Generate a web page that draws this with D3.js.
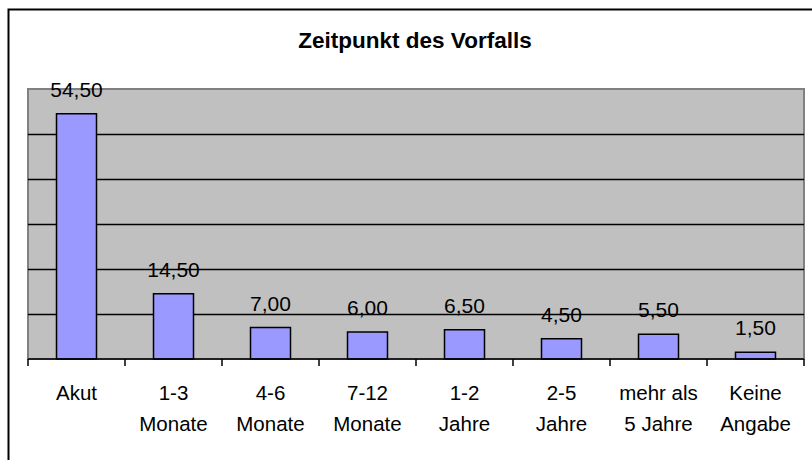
<!DOCTYPE html>
<html>
<head>
<meta charset="utf-8">
<script src="https://cdn.jsdelivr.net/npm/d3@7"></script>
<style>
  body { margin: 0; background: #fff; }
  text { font-family: "Liberation Sans", Arial, sans-serif; fill: #000; }
</style>
</head>
<body>
<div id="chart"></div>
<script>
var categories = [["Akut"], ["1-3", "Monate"], ["4-6", "Monate"], ["7-12", "Monate"],
    ["1-2", "Jahre"], ["2-5", "Jahre"], ["mehr als", "5 Jahre"], ["Keine", "Angabe"]];
var values = [54.5, 14.5, 7.0, 6.0, 6.5, 4.5, 5.5, 1.5];
var gridTicks = [10, 20, 30, 40, 50];

var W = 812, H = 460;
var plot = { left: 28, top: 89, right: 804, bottom: 359 };

var svg = d3.select("#chart").append("svg")
    .attr("width", W)
    .attr("height", H);

// outer chart frame
svg.append("rect")
    .attr("x", 8.5).attr("y", 9.5)
    .attr("width", 830).attr("height", 470)
    .attr("fill", "#fff")
    .attr("stroke", "#000")
    .attr("stroke-width", 2);

svg.append("text")
    .attr("x", 415).attr("y", 48)
    .attr("text-anchor", "middle")
    .style("font-size", "22.5px")
    .style("font-weight", "bold")
    .text("Zeitpunkt des Vorfalls");

var x = d3.scaleBand()
    .domain(d3.range(values.length))
    .range([plot.left, plot.right])
    .paddingInner(0)
    .paddingOuter(0);

var y = d3.scaleLinear()
    .domain([0, 60])
    .range([plot.bottom, plot.top]);

svg.append("rect")
    .attr("x", plot.left).attr("y", plot.top)
    .attr("width", plot.right - plot.left)
    .attr("height", plot.bottom - plot.top)
    .attr("fill", "#c0c0c0")
    .attr("stroke", "#808080")
    .attr("stroke-width", 2);

svg.append("g")
    .selectAll("line")
    .data(gridTicks)
    .enter()
    .append("line")
    .attr("x1", plot.left).attr("x2", plot.right)
    .attr("y1", function (d) { return Math.round(y(d)) + 0.5; })
    .attr("y2", function (d) { return Math.round(y(d)) + 0.5; })
    .attr("stroke", "#000")
    .attr("stroke-width", 1.3);

var barW = 40;
svg.append("g")
    .selectAll("rect")
    .data(values)
    .enter()
    .append("rect")
    .attr("x", function (d, i) { return x(i) + x.bandwidth() / 2 - barW / 2; })
    .attr("y", function (d) { return y(d); })
    .attr("width", barW)
    .attr("height", function (d) { return y(0) - y(d); })
    .attr("fill", "#9999ff")
    .attr("stroke", "#000")
    .attr("stroke-width", 1.5);

// x axis line with ticks at category boundaries
svg.append("line")
    .attr("x1", plot.left).attr("x2", plot.right)
    .attr("y1", plot.bottom).attr("y2", plot.bottom)
    .attr("stroke", "#000")
    .attr("stroke-width", 1.5);

svg.append("g")
    .selectAll("line")
    .data(d3.range(values.length + 1))
    .enter()
    .append("line")
    .attr("x1", function (i) { return i < values.length ? x(i) : plot.right; })
    .attr("x2", function (i) { return i < values.length ? x(i) : plot.right; })
    .attr("y1", plot.bottom)
    .attr("y2", plot.bottom + 7)
    .attr("stroke", "#000")
    .attr("stroke-width", 1.5);

svg.append("g")
    .selectAll("text")
    .data(values)
    .enter()
    .append("text")
    .attr("x", function (d, i) { return x(i) + x.bandwidth() / 2; })
    .attr("y", function (d) { return y(d) - 17; })
    .attr("text-anchor", "middle")
    .style("font-size", "21px")
    .text(function (d) { return d.toFixed(2).replace(".", ","); });

var labels = svg.append("g")
    .selectAll("text")
    .data(categories)
    .enter()
    .append("text")
    .attr("text-anchor", "middle")
    .style("font-size", "20.5px");

labels.each(function (lines, i) {
    var t = d3.select(this);
    lines.forEach(function (l, j) {
        t.append("tspan")
            .attr("x", x(i) + x.bandwidth() / 2)
            .attr("y", 400 + j * 31)
            .text(l);
    });
});
</script>
</body>
</html>
